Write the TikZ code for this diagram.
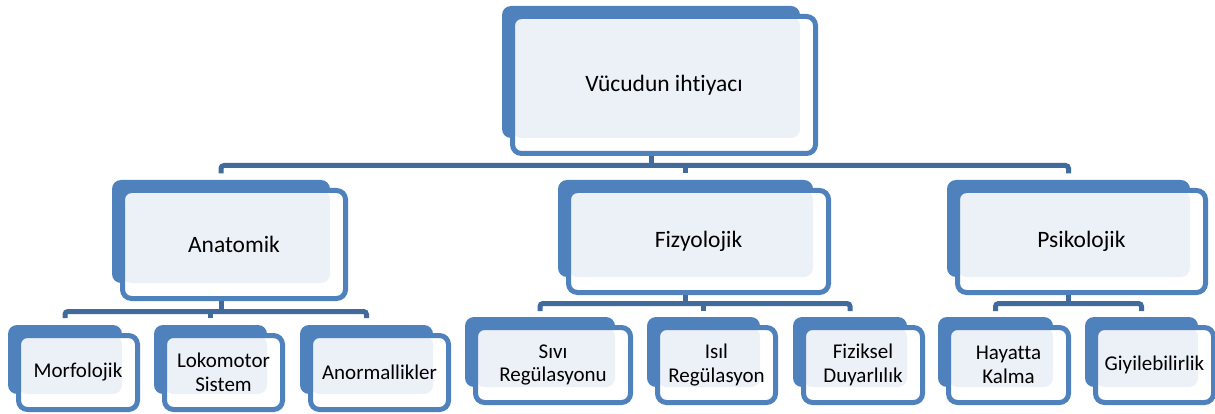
\documentclass[tikz,border=0pt]{standalone}
\usepackage{fontspec}
\setmainfont{Carlito}[Ligatures=NoCommon]
\usetikzlibrary{positioning,backgrounds}

\definecolor{boxblue}{RGB}{79,129,189}
\definecolor{linkblue}{RGB}{65,106,157}
\definecolor{paleblue}{RGB}{236,240,247}

\tikzset{
  backbox/.style={fill=boxblue, rounded corners=9pt, inner sep=0pt, outer sep=0pt},
  frontbox/.style={draw=boxblue, fill=white, line width=5pt, rounded corners=9pt,
    inner sep=0pt, outer sep=0pt, align=center},
  bigtext/.style={font=\fontsize{23.5}{26}\selectfont},
  smalltext/.style={font=\fontsize{21}{23.5}\selectfont},
  link/.style={draw=linkblue, line width=5pt},
}

% back plate + front card, given by the back plate corners
\newcommand{\pairbox}[7]{%
  \node[backbox, minimum width={#4-#2}, minimum height={#5-#3}]
    (#1b) at ({(#2+#4)/2},{(#3+#5)/2}) {};
  \node[frontbox, #6, minimum width={#4-#2+5}, minimum height={#5-#3+5},
    path picture={\fill[paleblue, rounded corners=9pt]
      (path picture bounding box.north west) rectangle (#1b.south east);}]
    (#1) at ({(#2+#4)/2+13},{(#3+#5)/2+13}) {#7};
}

\begin{document}
\begin{tikzpicture}[x=1pt, y=-1pt]
\useasboundingbox (0,0) rectangle (1215,414);

% level 0 and 1
\pairbox{top}{502}{6}{800}{138}{bigtext}{Vücudun ihtiyacı}
\pairbox{anat}{112}{180}{330}{283}{bigtext}{Anatomik}
\pairbox{fiz}{558}{180}{813}{277}{bigtext}{Fizyolojik}
\pairbox{psik}{947}{180}{1190}{277}{bigtext}{Psikolojik}

% level 2
\pairbox{morf}{8}{325}{122}{394}{smalltext}{Morfolojik}
\pairbox{loko}{154}{325}{267}{394}{smalltext}{Lokomotor\\Sistem}
\pairbox{anor}{300}{325}{433}{394}{smalltext}{Anormallikler}
\pairbox{sivi}{465}{317}{615}{387}{smalltext}{Sıvı\\Regülasyonu}
\pairbox{isil}{647}{317}{760}{387}{smalltext}{Isıl\\Regülasyon}
\pairbox{fizik}{793}{317}{907}{387}{smalltext}{Fiziksel\\Duyarlılık}
\pairbox{hayat}{938}{317}{1053}{387}{smalltext}{Hayatta\\Kalma}
\pairbox{giyi}{1085}{317}{1198}{387}{smalltext}{Giyilebilirlik}

\begin{scope}[on background layer]
\coordinate (bar1) at (0,165.5);
\coordinate (bar2) at (0,311.5);
\coordinate (bar3) at (0,303.5);
% top tier
\draw[link] (topb.south) -- (topb.south |- bar1);
\draw[link, rounded corners=3pt, shorten <=6.5pt, shorten >=6.5pt]
  (anatb.north) |- (bar1 -| psikb.north) -- (psikb.north);
\draw[link, shorten >=6.5pt] (bar1 -| fizb.north) -- (fizb.north);
% Anatomik
\draw[link] (anatb.south) -- (anatb.south |- bar2);
\draw[link, rounded corners=3pt, shorten <=7pt, shorten >=7pt]
  (morfb.north) |- (bar2 -| anorb.north) -- (anorb.north);
\draw[link, shorten >=7pt] (bar2 -| lokob.north) -- (lokob.north);
% Fizyolojik
\draw[link] (fizb.south) -- (fizb.south |- bar3);
\draw[link, rounded corners=3pt, shorten <=6pt, shorten >=6pt]
  (sivib.north) |- (bar3 -| fizikb.north) -- (fizikb.north);
\draw[link, shorten >=6pt] (bar3 -| isilb.north) -- (isilb.north);
% Psikolojik
\draw[link] (psikb.south) -- (psikb.south |- bar3);
\draw[link, rounded corners=3pt, shorten <=6pt, shorten >=6pt]
  (hayatb.north) |- (bar3 -| giyib.north) -- (giyib.north);
\end{scope}
\end{tikzpicture}
\end{document}
